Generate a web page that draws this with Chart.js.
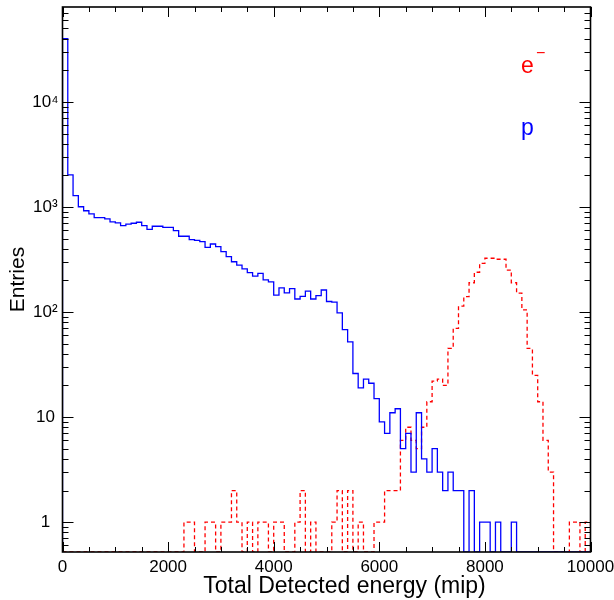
<!DOCTYPE html>
<html>
<head>
<meta charset="utf-8">
<script src="https://cdn.jsdelivr.net/npm/chart.js@4.4.1/dist/chart.umd.min.js"></script>
<style>
  html, body { margin: 0; padding: 0; background: #fff; }
  #wrap { width: 614px; height: 600px; }
</style>
</head>
<body>
<div id="wrap"><canvas id="energyChart" width="614" height="600"></canvas></div>
<script>
// histogram bins: 100 bins of 100 mip from 0 to 10000
const binWidth = 100;

// protons (blue, solid)
const protonCounts = [
  40000, 2020, 1280, 1005, 920, 860, 790, 790, 770, 720,
  705, 665, 685, 700, 715, 665, 613, 655, 655, 640,
  640, 595, 526, 526, 489, 480, 467, 412, 444, 419,
  375, 336, 301, 280, 257, 237, 220, 233, 202, 194,
  145, 170, 152, 167, 133, 141, 158, 133, 143, 162,
  126, 124, 98, 68, 52, 26, 19, 23, 21, 15,
  9, 7, 11, 12, 5, 7, 3, 11, 4, 3,
  5, 3, 2, 3, 2, 2, 0, 2, 0, 1,
  1, 0, 1, 0, 0, 1, 0, 0, 0, 0,
  0, 0, 0, 0, 0, 0, 0, 0, 0, 0
];

// electrons (red, dashed)
const electronCounts = [
  0, 0, 0, 0, 0, 0, 0, 0, 0, 0,
  0, 0, 0, 0, 0, 0, 0, 0, 0, 0,
  0, 0, 0, 1, 1, 0, 0, 1, 1, 0,
  1, 1, 2, 1, 0, 1, 0, 1, 1, 0,
  1, 1, 0, 0, 1, 2, 0, 1, 0, 0,
  0, 1, 2, 0, 2, 0, 1, 0, 0, 1,
  1, 2, 2, 2, 6, 8, 6, 5, 8, 14,
  22, 23, 20, 45, 70, 114, 140, 190, 239, 291,
  325, 325, 318, 318, 251, 190, 151, 105, 45, 25,
  14, 6, 3, 0, 0, 0, 1, 1, 0, 1
];

const xLabelStep = 2000;
const xMinorStep = 500;
const yTickLabels = { 1: '1', 10: '10', 100: '10²', 1000: '10³', 10000: '10⁴' };
const xTitle = 'Total Detected energy (mip)';

const X_MIN = 0, X_MAX = 10000;
const Y_MIN = 0.52, Y_MAX = 80000;
const FONT = "'Liberation Sans', Arial, sans-serif";

// empty bins sit on the bottom axis, like the original plot
function floorY(c) {
  return c > 0 ? c : Y_MIN;
}

function stepPoints(counts) {
  const pts = [{ x: 0, y: Y_MIN }];
  counts.forEach((c, i) => pts.push({ x: i * binWidth, y: floorY(c) }));
  const end = counts.length * binWidth;
  pts.push({ x: end, y: floorY(counts[counts.length - 1]) });
  pts.push({ x: end, y: Y_MIN });
  return pts;
}

function logTicks() {
  const ticks = [];
  for (let e = -1; e <= 4; e++) {
    for (let m = 1; m <= 9; m++) {
      const v = parseFloat((m * Math.pow(10, e)).toPrecision(6));
      if (v >= Y_MIN && v < Y_MAX) ticks.push({ value: v });
    }
  }
  return ticks;
}

// box frame with inward ticks on all sides, x title, species labels
const frameTicks = {
  id: 'frameTicks',
  afterDraw(chart) {
    const { ctx, chartArea: a, scales: { x, y } } = chart;
    ctx.save();
    ctx.strokeStyle = '#000';
    ctx.lineWidth = 1;
    ctx.beginPath();
    x.ticks.forEach(t => {
      const px = Math.round(x.getPixelForValue(t.value)) + 0.5;
      const len = t.value % xLabelStep === 0 ? 10 : 5;
      ctx.moveTo(px, a.bottom); ctx.lineTo(px, a.bottom - len);
      ctx.moveTo(px, a.top); ctx.lineTo(px, a.top + len);
    });
    y.ticks.forEach(t => {
      const py = Math.round(y.getPixelForValue(t.value)) + 0.5;
      const len = yTickLabels[t.value] !== undefined ? 11 : 6;
      ctx.moveTo(a.left, py); ctx.lineTo(a.left + len, py);
      ctx.moveTo(a.right, py); ctx.lineTo(a.right - len, py);
    });
    ctx.stroke();
    ctx.lineWidth = 1.6;
    ctx.strokeRect(a.left, a.top, a.right - a.left, a.bottom - a.top);

    // axis title sits a little right of centre in the original
    ctx.fillStyle = '#000';
    ctx.font = '23px ' + FONT;
    ctx.textAlign = 'center';
    ctx.textBaseline = 'middle';
    ctx.fillText(xTitle, (a.left + a.right) / 2 + 18, 587);

    ctx.textBaseline = 'alphabetic';
    ctx.textAlign = 'left';
    ctx.fillStyle = '#ff0000';
    ctx.font = '23px ' + FONT;
    ctx.fillText('e', 521, 73);
    ctx.font = '16px ' + FONT;
    ctx.fillText('−', 536, 58);
    ctx.fillStyle = '#0000ff';
    ctx.font = '23px ' + FONT;
    ctx.fillText('p', 521, 135);
    ctx.restore();
  }
};

const ctx = document.getElementById('energyChart').getContext('2d');
new Chart(ctx, {
  type: 'line',
  data: {
    datasets: [
      {
        label: 'p',
        data: stepPoints(protonCounts),
        stepped: 'before',
        borderColor: '#0000ff',
        borderWidth: 1.3,
        pointRadius: 0,
        fill: false
      },
      {
        label: 'e-',
        data: stepPoints(electronCounts),
        stepped: 'before',
        borderColor: '#ff0000',
        borderWidth: 1.3,
        borderDash: [4, 3],
        pointRadius: 0,
        fill: false
      }
    ]
  },
  options: {
    responsive: false,
    animation: false,
    devicePixelRatio: 1,
    layout: { padding: { top: 7, right: 23.5, bottom: 0, left: 0 } },
    plugins: {
      legend: { display: false },
      tooltip: { enabled: false }
    },
    scales: {
      x: {
        type: 'linear',
        min: X_MIN,
        max: X_MAX,
        afterBuildTicks: scale => {
          const t = [];
          for (let v = X_MIN; v <= X_MAX; v += xMinorStep) t.push({ value: v });
          scale.ticks = t;
        },
        afterFit: scale => {
          scale.height = 48;
          scale.paddingLeft = 0;
          scale.paddingRight = 0;
        },
        grid: { display: false, drawTicks: false },
        border: { display: false },
        ticks: {
          autoSkip: false,
          maxRotation: 0,
          padding: 5,
          color: '#000',
          font: { family: FONT, size: 17 },
          callback: v => (v % xLabelStep === 0 ? String(v) : '')
        },
        title: { display: false, text: xTitle }
      },
      y: {
        type: 'logarithmic',
        min: Y_MIN,
        max: Y_MAX,
        afterBuildTicks: scale => { scale.ticks = logTicks(); },
        afterFit: scale => {
          scale.width = 62.5;
          scale.paddingTop = 0;
          scale.paddingBottom = 0;
        },
        grid: { display: false, drawTicks: false },
        border: { display: false },
        ticks: {
          autoSkip: false,
          padding: 4,
          crossAlign: 'center',
          color: '#000',
          font: { family: FONT, size: 17 },
          callback: v => yTickLabels[v] || ''
        },
        title: {
          display: true,
          text: 'Entries',
          color: '#000',
          font: { family: FONT, size: 21 },
          padding: { top: 6, bottom: 0 }
        }
      }
    }
  },
  plugins: [frameTicks]
});
</script>
</body>
</html>
